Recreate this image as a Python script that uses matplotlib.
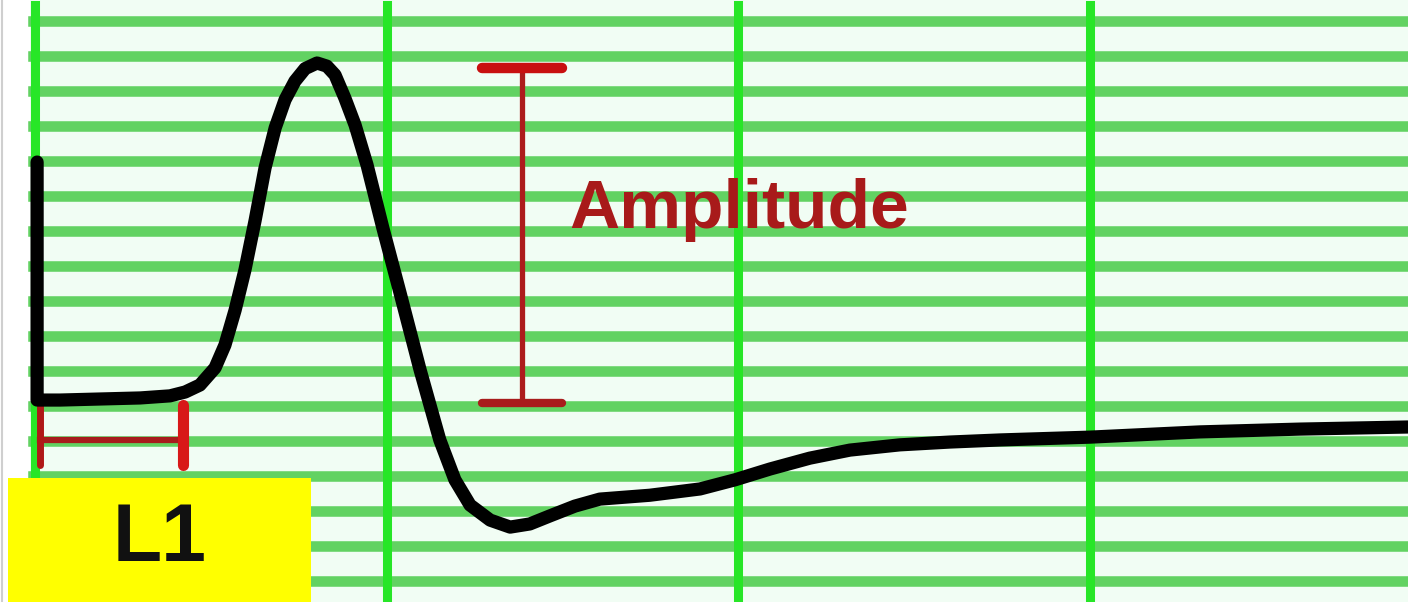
import matplotlib
matplotlib.use("Agg")
import matplotlib.pyplot as plt

# waveform (time in ms, amplitude in grid divisions)
time_ms = [0.06, 0.06, 0.71, 1.85, 2.99, 3.84, 4.27, 4.69, 5.12, 5.40, 5.69, 5.97,
           6.26, 6.54, 6.83, 7.11, 7.39, 7.68, 8.02, 8.30, 8.53, 8.81, 9.10, 9.44,
           9.89, 10.38, 10.95, 11.51, 11.94, 12.37, 12.94, 13.51, 14.07, 14.64,
           15.35, 16.06, 17.48, 18.91, 19.90, 20.90, 22.03, 23.17, 24.59, 26.01,
           27.44, 29.99, 33.12, 35.96, 39.03]
amp_div = [6.97, 0.17, 0.17, 0.20, 0.23, 0.29, 0.40, 0.60, 1.09, 1.74, 2.74, 3.89,
           5.31, 6.80, 7.95, 8.75, 9.28, 9.64, 9.80, 9.71, 9.46, 8.80, 8.03, 6.89,
           5.09, 3.23, 1.03, -0.97, -2.11, -2.83, -3.26, -3.46, -3.37, -3.14,
           -2.86, -2.66, -2.55, -2.37, -2.11, -1.80, -1.49, -1.26, -1.11, -1.03,
           -0.97, -0.89, -0.74, -0.66, -0.60]

# grid
major_t = [0, 10, 20, 30]
minor_v = list(range(-5, 12))

# amplitude marker (peak to baseline)
amp_t = 13.85
amp_top = 9.66
amp_bottom = 0.09
amp_cap = 1.14
amp_label = "Amplitude"

# latency L1 bracket
lat_start = 0.14
lat_end = 4.21
lat_v = -0.97
lat_tick = (0.03, -1.69)
lat_label = "L1"

W, H = 1408, 602
fig = plt.figure(figsize=(W / 100, H / 100), dpi=100)
fig.patch.set_facecolor("white")
ax = fig.add_axes([0, 0, 1, 1])
px_t = 35.17  # pixels per ms
px_v = 35.0   # pixels per division
ax.set_xlim(-35 / px_t, (W - 35) / px_t)
ax.set_ylim((406 - H) / px_v, 406 / px_v)
ax.axis("off")

# paper background
ax.axvspan(-5 / px_t, (W - 35) / px_t, color="#f1fdf4", zorder=0, lw=0)

for v in minor_v:
    ax.axhline(v, xmin=33 / W, xmax=1, color="#62d262", lw=7.6, zorder=1)
for t in major_t:
    ax.axvline(t, ymin=0, ymax=1 - 5 / H, color="#27e627", lw=6.5, zorder=2)

ax.axvline(-33 / px_t, color="#cfcfcf", lw=1.5, zorder=2)

# waveform
ax.plot(time_ms, amp_div, color="black", lw=9.5, solid_capstyle="round",
        solid_joinstyle="round", zorder=5)

# amplitude bar
ax.plot([amp_t, amp_t], [amp_bottom, amp_top], color="#ad1c1c", lw=3.8, zorder=4)
ax.plot([amp_t - amp_cap, amp_t + amp_cap], [amp_top, amp_top], color="#c81010",
        lw=7.5, solid_capstyle="round", zorder=4)
ax.plot([amp_t - amp_cap, amp_t + amp_cap], [amp_bottom, amp_bottom], color="#a81c1c",
        lw=6, solid_capstyle="round", zorder=4)
ax.text(15.2, 5.6, amp_label, color="#a81a1a", fontsize=50, fontweight="bold",
        family="Liberation Sans", ha="left", va="center", zorder=3)

# latency bracket
ax.plot([lat_start, lat_end], [lat_v, lat_v], color="#a81c1c", lw=4.5, zorder=4)
ax.plot([lat_start, lat_start], lat_tick, color="#b01818", lw=5, zorder=4,
        solid_capstyle="round")
ax.plot([lat_end, lat_end], lat_tick, color="#d81818", lw=8, zorder=4,
        solid_capstyle="round")

# yellow label box
lab = fig.add_axes([8 / W, 0, 303 / W, 124 / H])
lab.set_facecolor("#ffff00")
lab.set_xticks([])
lab.set_yticks([])
for s in lab.spines.values():
    s.set_visible(False)
lab.text(0.5, 0.5, lat_label, transform=lab.transAxes, ha="center", va="center",
         fontsize=58, fontweight="bold", family="Liberation Sans", color="#111111")

fig.savefig("out.png", dpi=100)
